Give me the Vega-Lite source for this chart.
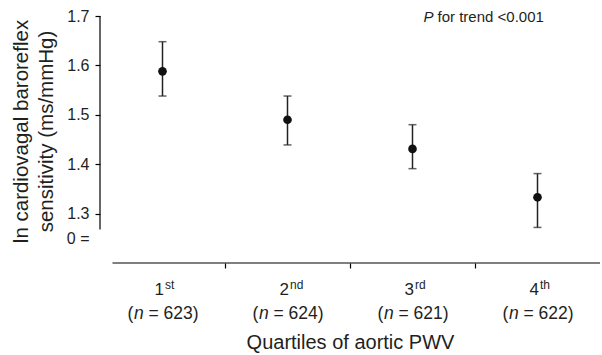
{
  "$schema": "https://vega.github.io/schema/vega-lite/v6.json",
  "width": 500,
  "height": 247,
  "autosize": {"type": "none"},
  "padding": {"left": 100, "top": 16, "right": 2, "bottom": 92},
  "background": "white",
  "config": {
    "view": {"stroke": null},
    "font": "Liberation Sans",
    "axis": {"grid": false, "domainColor": "#000", "tickColor": "#000", "labelColor": "#231f20", "titleColor": "#231f20", "titleFontWeight": "normal", "domainWidth": 1.2, "tickWidth": 1.2}
  },
  "datasets": {
    "main": [
      {"q": "1st", "mean": 1.588, "lo": 1.538, "hi": 1.648, "ord": "1", "sup": "st", "n": "= 623)"},
      {"q": "2nd", "mean": 1.49, "lo": 1.439, "hi": 1.538, "ord": "2", "sup": "nd", "n": "= 624)"},
      {"q": "3rd", "mean": 1.431, "lo": 1.391, "hi": 1.48, "ord": "3", "sup": "rd", "n": "= 621)"},
      {"q": "4th", "mean": 1.333, "lo": 1.272, "hi": 1.381, "ord": "4", "sup": "th", "n": "= 622)"}
    ],
    "axisline": [{"q": "1st", "y1": 1.268, "y2": 1.7}],
    "xline": [{"q1": "1st", "q2": "4th", "y": 1.2}],
    "note": [{"q": "4th", "y": 1.7, "p": "P", "rest": "for trend <0.001"}]
  },
  "layer": [
    {
      "data": {"name": "main"},
      "mark": {"type": "rule", "color": "#222", "strokeWidth": 1.5},
      "encoding": {
        "x": {
          "field": "q", "type": "nominal",
          "scale": {"domain": ["1st", "2nd", "3rd", "4th"], "paddingInner": 0, "paddingOuter": 0},
          "axis": {
            "labels": false,
            "domain": false,
            "title": "Quartiles of aortic PWV",
            "titleFontSize": 20,
            "titlePadding": 64,
            "bandPosition": 0,
            "tickSize": 5,
            "tickOpacity": {"condition": {"test": "datum.value === '1st'", "value": 0}, "value": 1}
          }
        },
        "y": {
          "field": "lo", "type": "quantitative",
          "scale": {"domain": [1.2, 1.7], "nice": false, "zero": false},
          "axis": {
            "values": [1.25, 1.3, 1.4, 1.5, 1.6, 1.7],
            "labelExpr": "datum.value < 1.27 ? '0 =' : format(datum.value, '.1f')",
            "labelFontSize": 16,
            "labelPadding": 6,
            "tickSize": 5,
            "domain": false,
            "tickOpacity": {"condition": {"test": "datum.value < 1.27", "value": 0}, "value": 1},
            "title": ["ln cardiovagal baroreflex", "sensitivity (ms/mmHg)"],
            "titleFontSize": 20.5,
            "titleLineHeight": 25,
            "titlePadding": 10,
            "titleY": 115
          }
        },
        "y2": {"field": "hi"}
      }
    },
    {
      "data": {"name": "main"},
      "mark": {"type": "tick", "orient": "horizontal", "size": 8, "thickness": 1.5, "color": "#222"},
      "encoding": {
        "x": {"field": "q", "type": "nominal"},
        "y": {"field": "lo", "type": "quantitative"}
      }
    },
    {
      "data": {"name": "main"},
      "mark": {"type": "tick", "orient": "horizontal", "size": 8, "thickness": 1.5, "color": "#222"},
      "encoding": {
        "x": {"field": "q", "type": "nominal"},
        "y": {"field": "hi", "type": "quantitative"}
      }
    },
    {
      "data": {"name": "main"},
      "mark": {"type": "point", "filled": true, "size": 75, "color": "#111", "opacity": 1},
      "encoding": {
        "x": {"field": "q", "type": "nominal"},
        "y": {"field": "mean", "type": "quantitative"}
      }
    },
    {
      "data": {"name": "axisline"},
      "mark": {"type": "rule", "color": "#000", "strokeWidth": 1.2},
      "encoding": {
        "x": {"field": "q", "type": "nominal", "bandPosition": 0},
        "y": {"field": "y1", "type": "quantitative"},
        "y2": {"field": "y2"}
      }
    },
    {
      "data": {"name": "xline"},
      "mark": {"type": "rule", "color": "#000", "strokeWidth": 1.2},
      "encoding": {
        "x": {"field": "q1", "type": "nominal", "bandPosition": 0.1},
        "x2": {"field": "q2", "bandPosition": 1},
        "y": {"field": "y", "type": "quantitative"}
      }
    },
    {
      "data": {"name": "main"},
      "mark": {"type": "text", "align": "right", "baseline": "alphabetic", "dy": 32, "dx": 1.5, "fontSize": 17, "color": "#231f20"},
      "encoding": {
        "x": {"field": "q", "type": "nominal"},
        "y": {"datum": 1.2, "type": "quantitative"},
        "text": {"field": "ord"}
      }
    },
    {
      "data": {"name": "main"},
      "mark": {"type": "text", "align": "left", "baseline": "alphabetic", "dy": 26, "dx": 2.5, "fontSize": 12, "color": "#231f20"},
      "encoding": {
        "x": {"field": "q", "type": "nominal"},
        "y": {"datum": 1.2, "type": "quantitative"},
        "text": {"field": "sup"}
      }
    },
    {
      "data": {"name": "main"},
      "mark": {"type": "text", "align": "left", "baseline": "alphabetic", "dy": 56, "dx": -35, "fontSize": 17.5, "color": "#231f20", "text": "("},
      "encoding": {
        "x": {"field": "q", "type": "nominal"},
        "y": {"datum": 1.2, "type": "quantitative"}
      }
    },
    {
      "data": {"name": "main"},
      "mark": {"type": "text", "align": "left", "baseline": "alphabetic", "dy": 56, "dx": -28.5, "fontSize": 17.5, "fontStyle": "italic", "color": "#231f20", "text": "n"},
      "encoding": {
        "x": {"field": "q", "type": "nominal"},
        "y": {"datum": 1.2, "type": "quantitative"}
      }
    },
    {
      "data": {"name": "main"},
      "mark": {"type": "text", "align": "left", "baseline": "alphabetic", "dy": 56, "dx": -14, "fontSize": 17.5, "color": "#231f20"},
      "encoding": {
        "x": {"field": "q", "type": "nominal"},
        "y": {"datum": 1.2, "type": "quantitative"},
        "text": {"field": "n"}
      }
    },
    {
      "data": {"name": "note"},
      "mark": {"type": "text", "align": "left", "baseline": "middle", "dx": -114, "dy": 1, "fontSize": 15, "fontStyle": "italic", "color": "#231f20"},
      "encoding": {
        "x": {"field": "q", "type": "nominal"},
        "y": {"field": "y", "type": "quantitative"},
        "text": {"field": "p"}
      }
    },
    {
      "data": {"name": "note"},
      "mark": {"type": "text", "align": "left", "baseline": "middle", "dx": -100, "dy": 1, "fontSize": 15, "color": "#231f20"},
      "encoding": {
        "x": {"field": "q", "type": "nominal"},
        "y": {"field": "y", "type": "quantitative"},
        "text": {"field": "rest"}
      }
    }
  ]
}
